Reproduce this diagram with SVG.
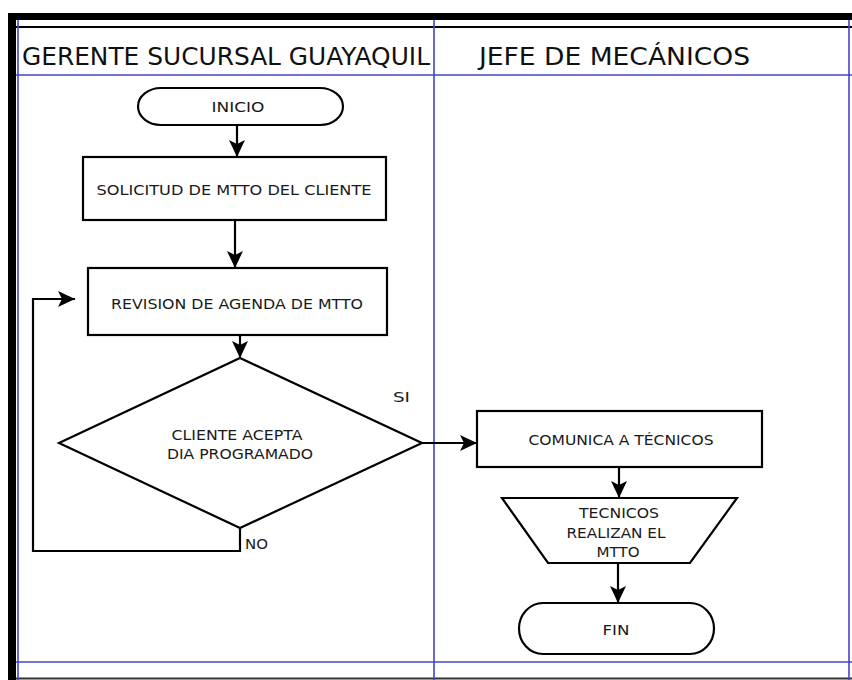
<svg xmlns="http://www.w3.org/2000/svg" width="852" height="680" viewBox="0 0 852 680">
<style>
.frame{fill:#000}
.lane{stroke:#4444c4;stroke-width:1.6;fill:none}
.shape{fill:#fff;stroke:#000;stroke-width:2.2}
.conn{stroke:#000;stroke-width:2.2;fill:none}
.hdr{font-family:"DejaVu Sans",Verdana,sans-serif;font-size:25px;fill:#111}
.lbl{font-family:"DejaVu Sans",Verdana,sans-serif;font-size:14px;fill:#1a1a1a;text-anchor:middle}
.tag{font-family:"DejaVu Sans",Verdana,sans-serif;font-size:14px;fill:#1a1a1a}
</style>
<defs>
<marker id="arr" viewBox="0 0 17 16" refX="17" refY="8" markerWidth="17" markerHeight="16" markerUnits="userSpaceOnUse" orient="auto">
<path d="M0,0 L17,8 L0,16 L4,8 Z" fill="#000"/>
</marker>
</defs>
<rect width="852" height="680" fill="#fff"/>
<g id="frame">
<rect class="frame" x="8" y="13" width="844" height="7"/>
<rect class="frame" x="8" y="13" width="8" height="667"/>
<line x1="16" y1="27" x2="852" y2="27" stroke="#000" stroke-width="2"/>
<line x1="16" y1="678.5" x2="852" y2="678.5" stroke="#333" stroke-width="2"/>
<line class="lane" x1="18" y1="20" x2="18" y2="680"/>
<line class="lane" x1="434" y1="20" x2="434" y2="680"/>
<line class="lane" x1="849" y1="20" x2="849" y2="680"/>
<line class="lane" x1="16" y1="75" x2="852" y2="75"/>
<line class="lane" x1="16" y1="662" x2="852" y2="662"/>
<text class="hdr" x="22" y="65" textLength="408" lengthAdjust="spacingAndGlyphs">GERENTE SUCURSAL GUAYAQUIL</text>
<text class="hdr" x="479" y="65" textLength="271" lengthAdjust="spacingAndGlyphs">JEFE DE MECÁNICOS</text>
</g>
<g id="connectors">
<line class="conn" x1="237" y1="125" x2="237" y2="157" marker-end="url(#arr)"/>
<line class="conn" x1="235" y1="220" x2="235" y2="268" marker-end="url(#arr)"/>
<line class="conn" x1="240" y1="335" x2="240" y2="358" marker-end="url(#arr)"/>
<polyline class="conn" points="240,528 240,551 33,551 33,299 75,299" marker-end="url(#arr)"/>
<line class="conn" x1="422" y1="443" x2="477" y2="443" marker-end="url(#arr)"/>
<line class="conn" x1="619" y1="467" x2="619" y2="498" marker-end="url(#arr)"/>
<line class="conn" x1="618" y1="563" x2="618" y2="603" marker-end="url(#arr)"/>
<text class="tag" x="393" y="402" textLength="17" lengthAdjust="spacingAndGlyphs">SI</text>
<text class="tag" x="245" y="549" textLength="23" lengthAdjust="spacingAndGlyphs">NO</text>
</g>
<g id="inicio">
<rect class="shape" x="138" y="88" width="205" height="37" rx="23" ry="18.5"/>
<text class="lbl" x="238" y="112" textLength="53" lengthAdjust="spacingAndGlyphs">INICIO</text>
</g>
<g id="solicitud">
<rect class="shape" x="83" y="157" width="303" height="63"/>
<text class="lbl" x="234" y="195" textLength="275" lengthAdjust="spacingAndGlyphs">SOLICITUD DE MTTO DEL CLIENTE</text>
</g>
<g id="revision">
<rect class="shape" x="88" y="268" width="299" height="67"/>
<text class="lbl" x="237" y="309" textLength="252" lengthAdjust="spacingAndGlyphs">REVISION DE AGENDA DE MTTO</text>
</g>
<g id="decision">
<polygon class="shape" points="240,358 422,443 240,528 59,443"/>
<text class="lbl" x="237" y="440" textLength="131" lengthAdjust="spacingAndGlyphs">CLIENTE ACEPTA</text>
<text class="lbl" x="240" y="459" textLength="146" lengthAdjust="spacingAndGlyphs">DIA PROGRAMADO</text>
</g>
<g id="comunica">
<rect class="shape" x="477" y="411" width="285" height="56"/>
<text class="lbl" x="621" y="445" textLength="185" lengthAdjust="spacingAndGlyphs">COMUNICA A TÉCNICOS</text>
</g>
<g id="tecnicos">
<polygon class="shape" points="502,498 737,498 690,563 548,563"/>
<text class="lbl" x="619" y="518" textLength="80" lengthAdjust="spacingAndGlyphs">TECNICOS</text>
<text class="lbl" x="616" y="538" textLength="99" lengthAdjust="spacingAndGlyphs">REALIZAN EL</text>
<text class="lbl" x="618" y="557" textLength="43" lengthAdjust="spacingAndGlyphs">MTTO</text>
</g>
<g id="fin">
<rect class="shape" x="519" y="603" width="195" height="51" rx="24" ry="25.5"/>
<text class="lbl" x="616" y="635" textLength="27" lengthAdjust="spacingAndGlyphs">FIN</text>
</g>
</svg>
